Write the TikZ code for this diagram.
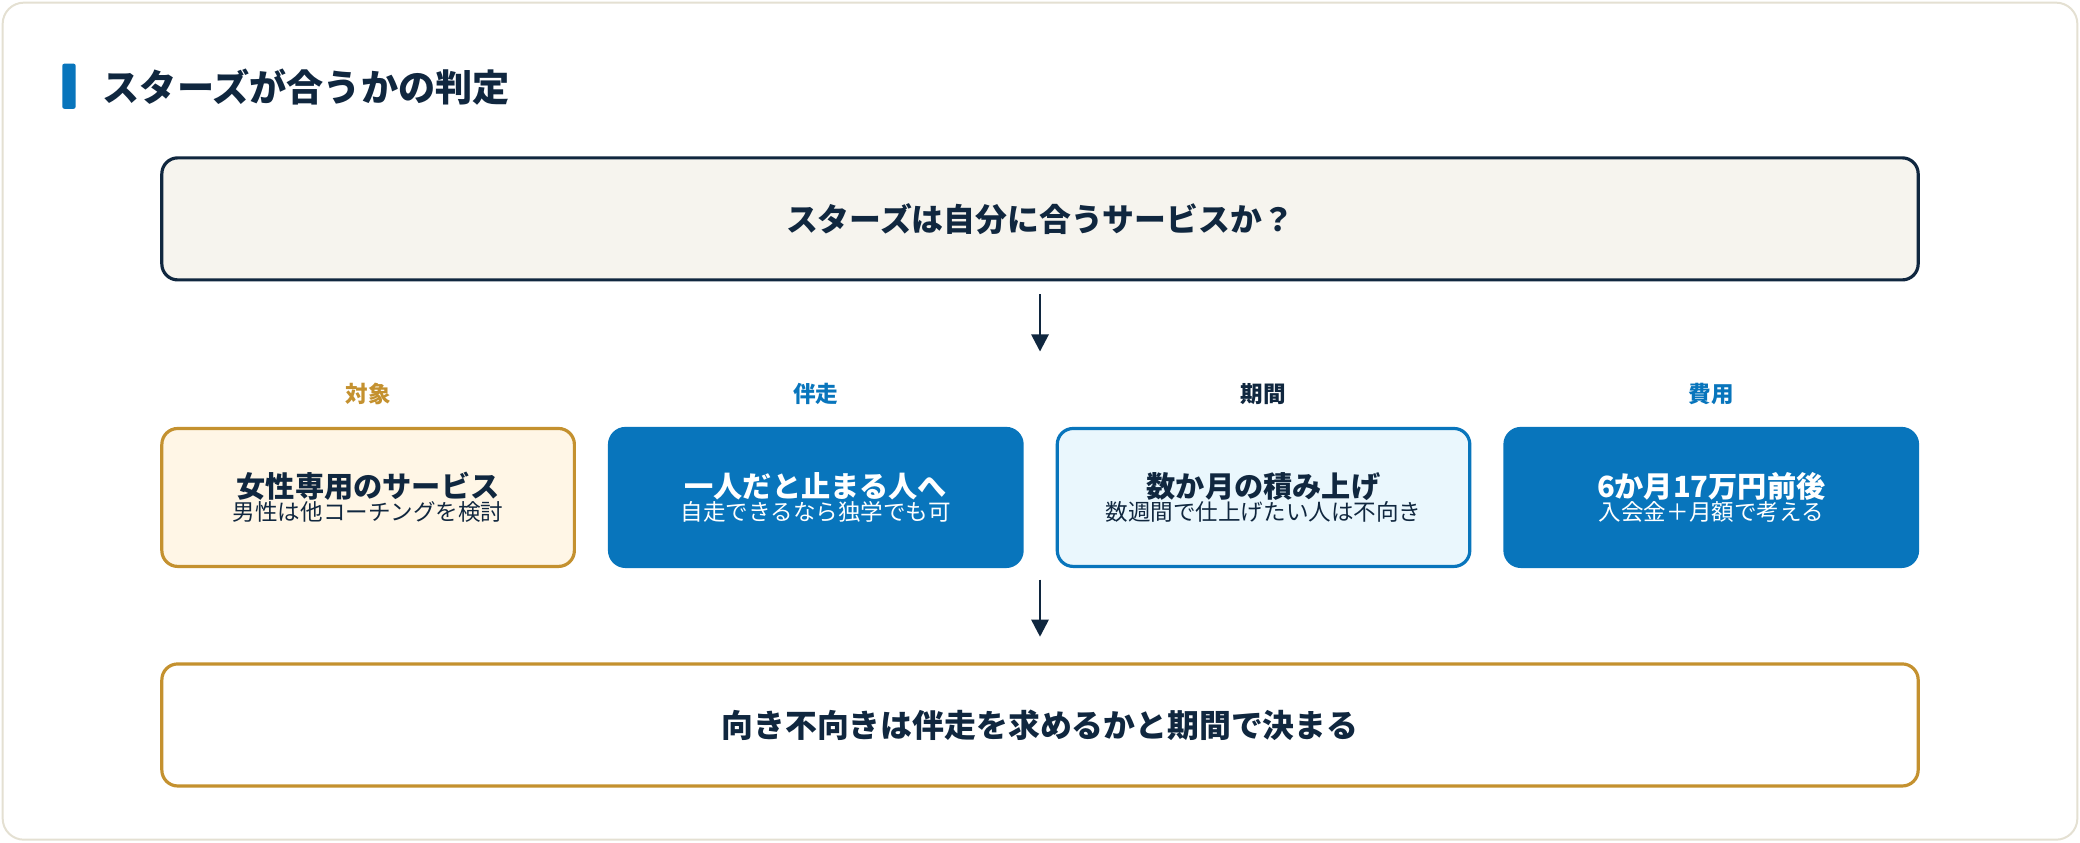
\documentclass[tikz,border=0pt]{standalone}
\usepackage{fontspec}
\setmainfont{Noto Sans CJK JP}
\usetikzlibrary{arrows.meta,positioning}
\definecolor{navy}{HTML}{10273F}
\definecolor{gold}{HTML}{C4912F}
\definecolor{blue}{HTML}{0875BC}
\definecolor{cream}{HTML}{FFF6E6}
\definecolor{ice}{HTML}{EAF7FD}
\definecolor{paper}{HTML}{F6F4EE}
\definecolor{rim}{HTML}{E4E0D2}
\begin{document}
\begin{tikzpicture}
  [
  x=1pt, y=-1pt, font=\bfseries, line width=2.4pt, >={Triangle[length=13pt,width=13pt]},
  wide/.style={rectangle, minimum height=92pt, minimum width=1324pt, rounded corners=12pt, font=\fontsize{24}{28}\bfseries, text=navy},
  card/.style={rectangle, minimum height=104pt, minimum width=311pt, rounded corners=12pt, align=center},
  head/.style={font=\fontsize{17}{20}\bfseries},
  flow/.style={->, draw=navy, line width=2pt}
  ]
\useasboundingbox (0,0) rectangle (1568,635);
\draw[rim, fill=white, line width=1.5pt, rounded corners=16pt] (2,2) rectangle (1566,633);

% title
\fill[blue, rounded corners=1.5pt] (47,48) rectangle (57,82);
\node[anchor=west, text=navy, font=\fontsize{28}{32}\bfseries] (title) at (73,66) {スターズが合うかの判定};

\node[wide, draw=navy, fill=paper] (question) at (784,165) {スターズは自分に合うサービスか？};

% four cards
\node[card, draw=gold, fill=cream, text=navy] (target) at (277.5,375)
  {{\fontsize{22}{30}\bfseries 女性専用のサービス}\\{\fontsize{17}{22}\mdseries 男性は他コーチングを検討}};
\node[card, draw=blue, fill=blue, text=white] (pace) at (615,375)
  {{\fontsize{22}{30}\bfseries 一人だと止まる人へ}\\{\fontsize{17}{22}\mdseries 自走できるなら独学でも可}};
\node[card, draw=blue, fill=ice, text=navy] (span) at (952.5,375)
  {{\fontsize{22}{30}\bfseries 数か月の積み上げ}\\{\fontsize{17}{22}\mdseries 数週間で仕上げたい人は不向き}};
\node[card, draw=blue, fill=blue, text=white] (cost) at (1290,375)
  {{\fontsize{22}{30}\bfseries 6か月17万円前後}\\{\fontsize{17}{22}\mdseries 入会金＋月額で考える}};

\node[head, text=gold, above=12pt of target] (htarget) {対象};
\node[head, text=blue, above=12pt of pace] (hpace) {伴走};
\node[head, text=navy, above=12pt of span] (hspan) {期間};
\node[head, text=blue, above=12pt of cost] (hcost) {費用};

\node[wide, draw=gold, fill=white] (result) at (784,546.5) {向き不向きは伴走を求めるかと期間で決まる};

\coordinate (a1) at (784,222);
\coordinate (a2) at (784,265);
\coordinate (b1) at (784,437);
\coordinate (b2) at (784,480);
\draw[flow] (a1) -- (a2);
\draw[flow] (b1) -- (b2);

\end{tikzpicture}
\end{document}
